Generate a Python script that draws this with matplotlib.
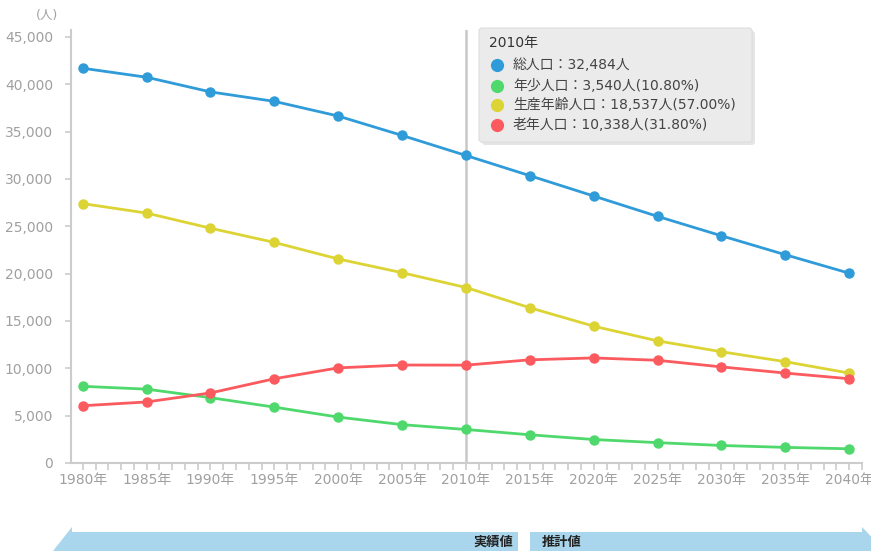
import matplotlib
matplotlib.use("Agg")
import matplotlib.pyplot as plt
from matplotlib.patches import Polygon, FancyBboxPatch
from matplotlib.lines import Line2D
from matplotlib.ticker import FuncFormatter, MultipleLocator

plt.rcParams['font.family'] = ['DejaVu Sans', 'Noto Sans CJK JP']

years = [1980, 1985, 1990, 1995, 2000, 2005, 2010, 2015, 2020, 2025, 2030, 2035, 2040]
total = [41700, 40750, 39200, 38200, 36650, 34600, 32484, 30350, 28200, 26050, 24000, 22000, 20050]
young = [8100, 7800, 6900, 5900, 4850, 4050, 3540, 2980, 2480, 2150, 1850, 1650, 1500]
working = [27400, 26400, 24800, 23300, 21550, 20100, 18537, 16400, 14450, 12900, 11750, 10700, 9500]
elderly = [6050, 6450, 7400, 8900, 10050, 10350, 10338, 10900, 11100, 10850, 10150, 9500, 8900]

series_names = ['総人口', '年少人口', '生産年齢人口', '老年人口']
series_vals = [total, young, working, elderly]
colors = ['#2f9bd9', '#4fd86c', '#dcd434', '#fb5a5f']
tooltip_year = 2010
tooltip_lines = ['総人口：32,484人', '年少人口：3,540人(10.80%)',
                 '生産年齢人口：18,537人(57.00%)', '老年人口：10,338人(31.80%)']
arrow_labels = ['実績値', '推計値']

W, H = 871, 551
fig = plt.figure(figsize=(W / 100, H / 100), dpi=100)
ax = fig.add_axes([71 / W, 1 - 463 / H, (862 - 71) / W, (463 - 30) / H])

ax.axvline(tooltip_year, color='#c8c8c8', lw=1.8, zorder=1)
for vals, c in zip(series_vals, colors):
    ax.plot(years, vals, color=c, lw=2.0, marker='o', ms=6.5, zorder=3)

ax.set_xlim(1979.08, 2041.0)
ax.set_ylim(0, 45000 * 433 / 426)
ax.set_yticks(range(0, 45001, 5000))
ax.yaxis.set_major_formatter(FuncFormatter(lambda v, p: f'{int(v):,}'))
ax.set_xticks(years)
ax.set_xticklabels([f'{y}年' for y in years])
ax.xaxis.set_minor_locator(MultipleLocator(1))

for s in ['top', 'right']:
    ax.spines[s].set_visible(False)
for s in ['left', 'bottom']:
    ax.spines[s].set_color('#cccccc')
    ax.spines[s].set_linewidth(1.5)
ax.tick_params(axis='y', direction='out', length=4, width=1.2, color='#cccccc',
               labelcolor='#a0a0a0', labelsize=10, pad=9)
ax.tick_params(axis='x', which='both', direction='out', length=5, width=1.2, color='#cccccc',
               labelcolor='#a0a0a0', labelsize=10, pad=2)

fig.text(47 / W, 1 - 15 / H, '(人)', color='#a0a0a0', fontsize=9, ha='center', va='center')

# tooltip box
bx0, by0, bx1, by1 = 479, 28, 752, 142
shadow = FancyBboxPatch((bx0 + 3, H - by1 - 3), bx1 - bx0, by1 - by0,
                        boxstyle='round,pad=0,rounding_size=3', transform=None,
                        facecolor='#000000', alpha=0.10, edgecolor='none', zorder=9)
box = FancyBboxPatch((bx0, H - by1), bx1 - bx0, by1 - by0,
                     boxstyle='round,pad=0,rounding_size=3', transform=None,
                     facecolor='#ebebeb', edgecolor='#dddddd', lw=0.8, zorder=10)
fig.patches.extend([shadow, box])
fig.text(489 / W, 1 - 43 / H, f'{tooltip_year}年', fontsize=10, color='#333333',
         ha='left', va='center', zorder=11)
row_y = [65, 86, 105, 125]
for yy, c, t in zip(row_y, colors, tooltip_lines):
    fig.add_artist(Line2D([497 / W], [1 - yy / H], marker='o', ms=9.5, color=c,
                          markeredgewidth=0, transform=fig.transFigure, zorder=11))
    fig.text(513 / W, 1 - yy / H, t, fontsize=10, color='#444444', ha='left', va='center', zorder=11)

# bottom arrows (in pixel coordinates)
acol = '#a9d6ec'
left_arrow = [(53, 0), (72, H - 527), (72, H - 532), (518, H - 532), (518, 0)]
right_arrow = [(530, 0), (530, H - 532), (862, H - 532), (862, H - 527), (885, 0)]
for pts in (left_arrow, right_arrow):
    fig.patches.append(Polygon([(x / W, y / H) for x, y in pts], closed=True,
                               transform=fig.transFigure, facecolor=acol, edgecolor='none'))
fig.text(513 / W, 1 - 542 / H, arrow_labels[0], fontsize=9.5, color='#222222', ha='right',
         va='center', fontweight='bold')
fig.text(542 / W, 1 - 542 / H, arrow_labels[1], fontsize=9.5, color='#222222', ha='left',
         va='center', fontweight='bold')

fig.savefig('out.png', dpi=100)
